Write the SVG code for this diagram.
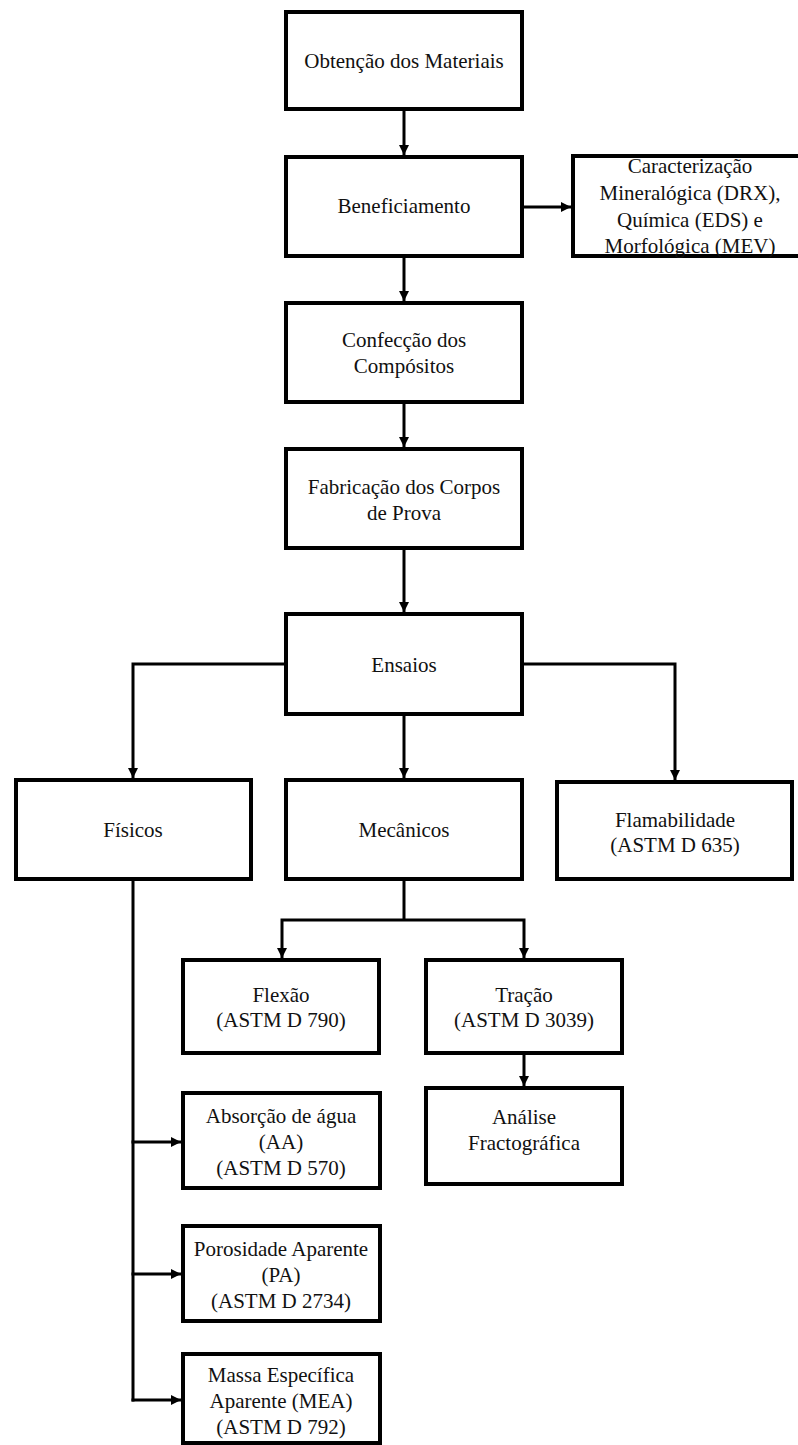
<svg xmlns="http://www.w3.org/2000/svg" width="798" height="1445" viewBox="0 0 798 1445">
<style>
.box{fill:#fff;stroke:#000;stroke-width:4}
.t{font-family:"Liberation Serif","Times New Roman",serif;font-size:21px;fill:#111;text-anchor:middle}
.c{fill:none;stroke:#000;stroke-width:3}
</style>
<defs>
<marker id="ah" markerUnits="userSpaceOnUse" markerWidth="11" markerHeight="11" refX="10" refY="5" orient="auto">
<path d="M0,0 L10,5 L0,10 z" fill="#000"/>
</marker>
</defs>
<rect width="798" height="1445" fill="#fff"/>
<g id="connectors">
<line class="c" x1="404" y1="111" x2="404" y2="155" marker-end="url(#ah)"/>
<line class="c" x1="404" y1="258" x2="404" y2="301" marker-end="url(#ah)"/>
<line class="c" x1="404" y1="404" x2="404" y2="447" marker-end="url(#ah)"/>
<line class="c" x1="404" y1="550" x2="404" y2="612" marker-end="url(#ah)"/>
<line class="c" x1="524" y1="207" x2="571" y2="207" marker-end="url(#ah)"/>
<polyline class="c" points="284,664 133,664 133,778" marker-end="url(#ah)"/>
<polyline class="c" points="524,664 675,664 675,780" marker-end="url(#ah)"/>
<line class="c" x1="404" y1="716" x2="404" y2="778" marker-end="url(#ah)"/>
<line class="c" x1="404" y1="881" x2="404" y2="920"/>
<polyline class="c" points="404,920 282,920 282,958" marker-end="url(#ah)"/>
<polyline class="c" points="404,920 524,920 524,958" marker-end="url(#ah)"/>
<line class="c" x1="133" y1="881" x2="133" y2="1401.5"/>
<line class="c" x1="131.5" y1="1142" x2="181" y2="1142" marker-end="url(#ah)"/>
<line class="c" x1="131.5" y1="1274" x2="181" y2="1274" marker-end="url(#ah)"/>
<line class="c" x1="131.5" y1="1400" x2="181" y2="1400" marker-end="url(#ah)"/>
<line class="c" x1="524" y1="1055" x2="524" y2="1086" marker-end="url(#ah)"/>
</g>
<g id="obtencao"><rect class="box" x="286" y="12" width="236" height="97"/><text class="t" x="404" y="68">Obtenção dos Materiais</text></g>
<g id="beneficiamento"><rect class="box" x="286" y="157" width="236" height="99"/><text class="t" x="404" y="213">Beneficiamento</text></g>
<g id="caracterizacao"><rect class="box" x="573" y="156" width="235" height="100"/>
<text class="t" x="690" y="173">Caracterização</text><text class="t" x="690" y="200">Mineralógica (DRX),</text><text class="t" x="690" y="227">Química (EDS) e</text><text class="t" x="690" y="253">Morfológica (MEV)</text></g>
<g id="confeccao"><rect class="box" x="286" y="303" width="236" height="99"/><text class="t" x="404" y="347">Confecção dos</text><text class="t" x="404" y="373">Compósitos</text></g>
<g id="fabricacao"><rect class="box" x="286" y="449" width="236" height="99"/><text class="t" x="404" y="494">Fabricação dos Corpos</text><text class="t" x="404" y="520">de Prova</text></g>
<g id="ensaios"><rect class="box" x="286" y="614" width="236" height="100"/><text class="t" x="404" y="672">Ensaios</text></g>
<g id="fisicos"><rect class="box" x="16" y="780" width="235" height="99"/><text class="t" x="133" y="837">Físicos</text></g>
<g id="mecanicos"><rect class="box" x="286" y="780" width="236" height="99"/><text class="t" x="404" y="837">Mecânicos</text></g>
<g id="flamabilidade"><rect class="box" x="557" y="782" width="235" height="97"/><text class="t" x="675" y="827">Flamabilidade</text><text class="t" x="675" y="852">(ASTM D 635)</text></g>
<g id="flexao"><rect class="box" x="183" y="960" width="196" height="93"/><text class="t" x="281" y="1002">Flexão</text><text class="t" x="281" y="1027">(ASTM D 790)</text></g>
<g id="tracao"><rect class="box" x="426" y="960" width="196" height="93"/><text class="t" x="524" y="1002">Tração</text><text class="t" x="524" y="1027">(ASTM D 3039)</text></g>
<g id="analise"><rect class="box" x="426" y="1088" width="196" height="96"/><text class="t" x="524" y="1124">Análise</text><text class="t" x="524" y="1150">Fractográfica</text></g>
<g id="absorcao"><rect class="box" x="183" y="1093" width="197" height="95"/><text class="t" x="281" y="1123">Absorção de água</text><text class="t" x="281" y="1149">(AA)</text><text class="t" x="281" y="1175">(ASTM D 570)</text></g>
<g id="porosidade"><rect class="box" x="183" y="1226" width="197" height="95"/><text class="t" x="281" y="1256">Porosidade Aparente</text><text class="t" x="281" y="1282">(PA)</text><text class="t" x="281" y="1308">(ASTM D 2734)</text></g>
<g id="massa"><rect class="box" x="183" y="1354" width="197" height="89"/><text class="t" x="281" y="1382">Massa Específica</text><text class="t" x="281" y="1408">Aparente (MEA)</text><text class="t" x="281" y="1434">(ASTM D 792)</text></g>
</svg>
